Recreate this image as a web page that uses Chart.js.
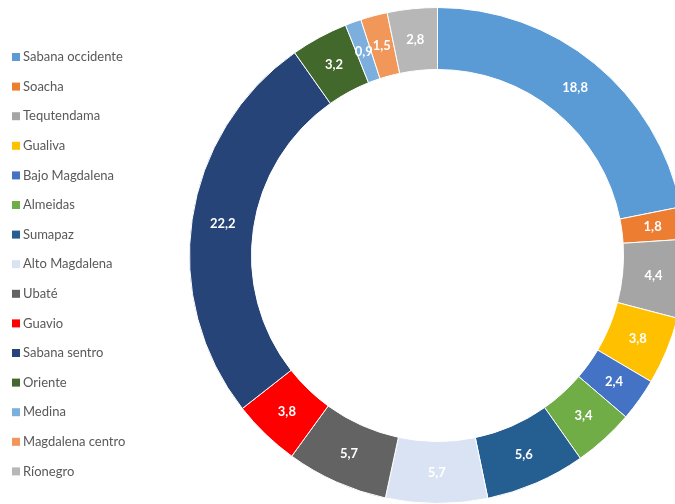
<!DOCTYPE html>
<html>
<head>
<meta charset="utf-8">
<script src="https://cdn.jsdelivr.net/npm/chart.js@4"></script>
<style>
  html, body { margin: 0; padding: 0; background: #fff; overflow: hidden; }
  #wrap { width: 675px; height: 504px; overflow: hidden; }
  canvas { display: block; }
</style>
</head>
<body>
<div id="wrap"><canvas id="grafico" width="686" height="504"></canvas></div>
<script>
const categorias = ['Sabana occidente', 'Soacha', 'Tequtendama', 'Gualiva', 'Bajo Magdalena', 'Almeidas',
    'Sumapaz', 'Alto Magdalena', 'Ubaté', 'Guavio', 'Sabana sentro', 'Oriente', 'Medina',
    'Magdalena centro', 'Ríonegro'];
const valores = [18.8, 1.8, 4.4, 3.8, 2.4, 3.4, 5.6, 5.7, 5.7, 3.8, 22.2, 3.2, 0.9, 1.5, 2.8];
const colores = ['#5B9BD5', '#ED7D31', '#A5A5A5', '#FFC000', '#4472C4', '#70AD47', '#255E91', '#DAE3F3',
    '#636363', '#FF0000', '#264478', '#43682B', '#7CAFDD', '#F1975A', '#B7B7B7'];

// etiquetas blancas en el medio de cada tramo
const etiquetas = {
    id: 'etiquetas',
    afterDatasetsDraw(chart) {
        const ctx = chart.ctx;
        const meta = chart.getDatasetMeta(0);
        ctx.save();
        ctx.font = 'bold 13px Lato';
        ctx.fillStyle = '#ffffff';
        ctx.textAlign = 'center';
        ctx.textBaseline = 'middle';
        meta.data.forEach((arc, i) => {
            const p = arc.tooltipPosition();
            ctx.fillText(String(valores[i]).replace('.', ','), p.x, p.y);
        });
        ctx.restore();
    }
};

// leyenda a la izquierda
const leyenda = {
    id: 'leyenda',
    afterDraw(chart) {
        const ctx = chart.ctx;
        ctx.save();
        ctx.font = '13px Lato';
        ctx.textBaseline = 'middle';
        for (let i = 0; i < categorias.length; i++) {
            const y = 57 + i * 29.6;
            ctx.fillStyle = colores[i];
            ctx.fillRect(12, y - 4, 8, 8);
            ctx.fillStyle = '#595959';
            ctx.fillText(categorias[i], 23, y);
        }
        ctx.restore();
    }
};

new Chart(document.getElementById('grafico'), {
    type: 'doughnut',
    data: {
        labels: categorias,
        datasets: [{
            data: valores,
            backgroundColor: colores,
            borderColor: '#ffffff',
            borderWidth: 1
        }]
    },
    options: {
        responsive: false,
        animation: false,
        cutout: '75%',
        layout: { padding: { left: 189, top: 7, right: 0, bottom: 0 } },
        plugins: {
            legend: { display: false },
            tooltip: { enabled: false }
        }
    },
    plugins: [etiquetas, leyenda]
});
</script>
</body>
</html>
